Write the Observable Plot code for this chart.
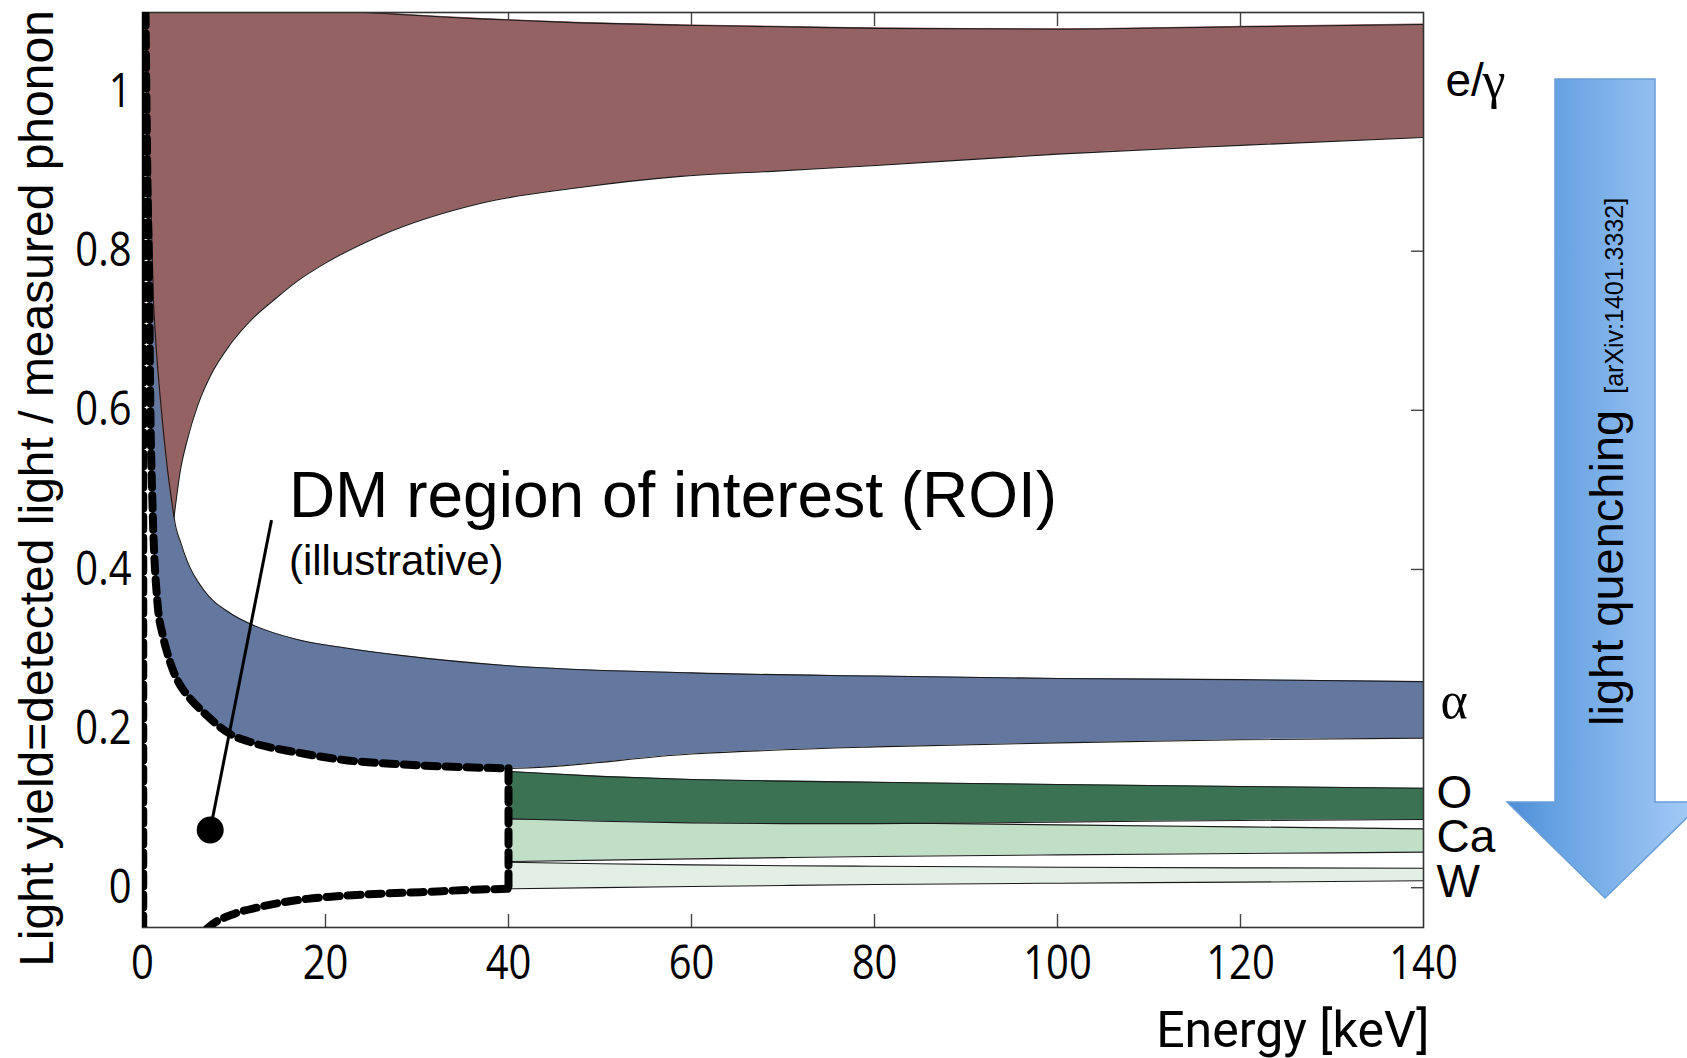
<!DOCTYPE html>
<html><head><meta charset="utf-8">
<script src="https://cdn.jsdelivr.net/npm/d3@7"></script>
<script src="https://cdn.jsdelivr.net/npm/@observablehq/plot@0.6"></script>
<style>html,body{margin:0;padding:0;background:#fff;overflow:hidden}</style>
</head><body><div id="chart"></div>
<script>
// ---------------- data ----------------
const xTicks = [0, 20, 40, 60, 80, 100, 120, 140];
const yTicks = [0, 0.2, 0.4, 0.6, 0.8, 1];

// e/gamma band, left part (left edge of the band, upper bound above the frame)
const egLeftE    = [0.45, 0.5, 0.8, 1.2, 1.4, 1.97, 2.7, 3.45];
const egLeftLow  = [1.14, 1.10, 0.914, 0.738, 0.696, 0.612, 0.529, 0.466];
const egLeftHigh = [1.2, 1.2, 1.2, 1.2, 1.2, 1.2, 1.2, 1.2];
// e/gamma band, right part
const egE    = [3.45, 4.15, 4.9, 6.0, 7.5, 9.6, 12, 14.3, 17, 20, 26, 36.9, 47.8, 58.8, 69.7, 80.6, 100, 120, 140];
const egLow  = [0.466, 0.525, 0.563, 0.605, 0.645, 0.683, 0.715, 0.738, 0.763, 0.785, 0.8195, 0.860, 0.880, 0.894, 0.901, 0.908, 0.922, 0.933, 0.943];
const egHigh = [1.2, 1.19, 1.18, 1.16, 1.15, 1.14, 1.13, 1.12, 1.11, 1.104, 1.099, 1.092, 1.087, 1.084, 1.082, 1.080, 1.079, 1.082, 1.085];

// alpha band
const alphaE    = [0.33, 0.5, 0.75, 0.85, 1.08, 1.62, 2.2, 2.71, 3.45, 4.2, 4.9, 6.7, 9.6, 12.1, 16.9, 22.4, 28.2, 40, 60, 80, 100, 120, 140];
const alphaLow  = [1.10, 0.92, 0.73, 0.61, 0.487, 0.36, 0.318, 0.295, 0.27, 0.253, 0.242, 0.22, 0.193, 0.182, 0.170, 0.160, 0.155, 0.150, 0.168, 0.177, 0.182, 0.186, 0.188];
const alphaHigh = [1.25, 1.18, 1.08, 1.04, 0.96, 0.82, 0.68, 0.58, 0.466, 0.433, 0.410, 0.374, 0.345, 0.330, 0.312, 0.301, 0.292, 0.279, 0.270, 0.266, 0.263, 0.2615, 0.259];

// nuclear recoil bands (O, Ca, W), 40-140 keV
const nrE    = [40, 50, 60, 70, 80, 100, 120, 140];
const oHigh  = [0.146, 0.140, 0.136, 0.134, 0.1326, 0.1297, 0.1272, 0.125];
const oLow   = [0.0866, 0.0835, 0.0815, 0.0805, 0.0805, 0.0825, 0.0845, 0.0857];
const caHigh = [0.0866, 0.0854, 0.0841, 0.0829, 0.0816, 0.079, 0.0765, 0.074];
const caLow  = [0.0329, 0.0347, 0.0363, 0.0378, 0.0392, 0.0413, 0.043, 0.0447];
const wHigh  = [0.032, 0.0302, 0.0287, 0.0277, 0.027, 0.0258, 0.025, 0.0245];
const wLow   = [-0.0014, 0.0001, 0.0015, 0.0028, 0.004, 0.0057, 0.007, 0.0087];

// ROI (dashed) lower boundary below 40 keV
const roiLowE = [7.0, 7.6, 10, 12.7, 15.5, 18, 20.9, 26.4, 30.4, 35.8, 40];
const roiLowV = [-0.052, -0.0463, -0.0329, -0.0245, -0.018, -0.014, -0.011, -0.0073, -0.0056, -0.0027, -0.0014];
const roiEdgeE = [0.08, 40];   // vertical ROI edges
const roiUpperE = alphaE.filter(e => e <= 40);
const roiUpperV = alphaLow.slice(0, roiUpperE.length);

// annotations
const roiTexts = ["DM region of interest (ROI)", "(illustrative)"];
const roiTextE = [16.0, 16.0];
const roiTextV = [0.4657, 0.393];
const pointerE = [14.1, 7.4];
const pointerV = [0.462, 0.0725];
const sideLabels = ["O", "Ca", "W"];
const sideLabelV = [0.119, 0.064, 0.007];
const egLabelV = 1.013;
const alphaLabelV = 0.234;

const C = {eg: "#946262", alpha: "#64789f", O: "#3b7254", Ca: "#c1dec7", W: "#e3efe5"};
const HUMAN = '"Open Sans", "DejaVu Sans", sans-serif';
const SANS = '"Liberation Sans", Arial, Helvetica, sans-serif';
const SERIF = '"Liberation Serif", "DejaVu Serif", serif';

function band(E, lo, hi, fill) {
  return [
    Plot.areaY(E, {x: E, y1: lo, y2: hi, fill, curve: "monotone-x", clip: true}),
    Plot.line(E, {x: E, y: lo, stroke: "#1a1a1a", strokeWidth: 1.1, curve: "monotone-x", clip: true}),
    Plot.line(E, {x: E, y: hi, stroke: "#1a1a1a", strokeWidth: 1.1, curve: "monotone-x", clip: true})
  ];
}

function arrowMark(index, scales, values, dims) {
  const W = dims.width;
  const cx = W - 82, hs = 50, hh = 98, top = 79, headTop = 802, tip = 898;
  const g = d3.create("svg:g");
  const grad = g.append("defs").append("linearGradient")
    .attr("id", "quenchGrad").attr("gradientUnits", "userSpaceOnUse")
    .attr("x1", cx - hh).attr("x2", cx + hh).attr("y1", 0).attr("y2", 0);
  grad.append("stop").attr("offset", 0).attr("stop-color", "#4d8dd8");
  grad.append("stop").attr("offset", 0.25).attr("stop-color", "#66a2e2");
  grad.append("stop").attr("offset", 0.75).attr("stop-color", "#93bff0");
  grad.append("stop").attr("offset", 1).attr("stop-color", "#a8cdf8");
  g.append("path")
    .attr("d", `M${cx - hs},${top}H${cx + hs}V${headTop}H${cx + hh}L${cx},${tip}L${cx - hh},${headTop}H${cx - hs}Z`)
    .attr("fill", "url(#quenchGrad)").attr("stroke", "#6a9fd9").attr("stroke-width", 1.5);
  const t = g.append("text")
    .attr("transform", `translate(${cx + 18},726) rotate(-90)`)
    .attr("text-anchor", "start")
    .attr("font-family", SANS).attr("font-size", 47).attr("fill", "#000");
  t.append("tspan").text("light quenching");
  t.append("tspan").attr("dx", 16).attr("font-size", 25).text("[arXiv:1401.3332]");
  return g.node();
}

const chart = Plot.plot({
  width: 1687, height: 1058,
  marginLeft: 142, marginRight: 264, marginTop: 12, marginBottom: 131,
  x: {domain: [0, 140]},
  y: {domain: [-0.05, 1.1]},
  style: {background: "#fff", color: "#000"},
  marks: [
    // inward ticks
    Plot.axisX(xTicks.slice(1, -1), {anchor: "bottom", tickSize: -13, tickFormat: () => "", stroke: "#444", strokeWidth: 1.4}),
    Plot.axisX(xTicks.slice(1, -1), {anchor: "top", tickSize: -13, tickFormat: () => "", stroke: "#444", strokeWidth: 1.4}),
    Plot.axisY(yTicks, {anchor: "right", tickSize: -13, tickFormat: () => "", stroke: "#444", strokeWidth: 1.4}),
    // tick labels
    Plot.axisX(xTicks, {anchor: "bottom", tickSize: 0, tickPadding: 18, fontSize: 47, fontFamily: HUMAN, fill: "#000"}),
    Plot.axisY(yTicks, {anchor: "left", tickSize: 0, tickPadding: 11, fontSize: 47, fontFamily: HUMAN, fill: "#000",
      tickFormat: d => (d === 0 || d === 1) ? String(d) : d3.format(".1f")(d)}),
    // bands
    ...band(nrE, wLow, wHigh, C.W),
    ...band(nrE, caLow, caHigh, C.Ca),
    ...band(nrE, oLow, oHigh, C.O),
    ...band(alphaE, alphaLow, alphaHigh, C.alpha),
    Plot.areaY(egLeftE, {x: egLeftE, y1: egLeftLow, y2: egLeftHigh, fill: C.eg, stroke: C.eg, strokeWidth: 1, curve: "monotone-x", clip: true}),
    Plot.areaY(egE, {x: egE, y1: egLow, y2: egHigh, fill: C.eg, stroke: C.eg, strokeWidth: 1, curve: "monotone-x", clip: true}),
    Plot.line(egLeftE, {x: egLeftE, y: egLeftLow, stroke: "#1a1a1a", strokeWidth: 1.1, curve: "monotone-x", clip: true}),
    Plot.line(egE, {x: egE, y: egLow, stroke: "#1a1a1a", strokeWidth: 1.1, curve: "monotone-x", clip: true}),
    Plot.line(egE, {x: egE, y: egHigh, stroke: "#1a1a1a", strokeWidth: 1.1, curve: "monotone-x", clip: true}),
    Plot.frame({stroke: "#333", strokeWidth: 1.6}),
    // ROI dashed outline
    Plot.line(roiLowE, {x: roiLowE, y: roiLowV, stroke: "#aaa", strokeWidth: 1.2, curve: "monotone-x", clip: true}),
    Plot.line(roiUpperE, {x: roiUpperE, y: roiUpperV, stroke: "#000", strokeWidth: 8, strokeDasharray: "13,8", curve: "monotone-x", clip: true}),
    Plot.line(roiLowE, {x: roiLowE, y: roiLowV, stroke: "#000", strokeWidth: 8, strokeDasharray: "13,8", curve: "monotone-x", clip: true}),
    Plot.line([0, 1], {x: [roiEdgeE[1], roiEdgeE[1]], y: [alphaLow[alphaE.indexOf(40)], wLow[0]], stroke: "#000", strokeWidth: 8, strokeDasharray: "13,8", clip: true}),
    Plot.line([0, 1], {x: [roiEdgeE[0], roiEdgeE[0]], y: [1.1, -0.05], stroke: "#000", strokeWidth: 8, strokeDasharray: "13,8", clip: true}),
    // ROI annotation
    Plot.link([0], {x1: pointerE[0], y1: pointerV[0], x2: pointerE[1], y2: pointerV[1], stroke: "#000", strokeWidth: 3}),
    Plot.dot([0], {x: pointerE[1], y: pointerV[1], r: 13.5, fill: "#000"}),
    Plot.text([roiTexts[0]], {x: roiTextE[0], y: roiTextV[0], textAnchor: "start", lineAnchor: "bottom", fontSize: 64, fontFamily: SANS, fill: "#000"}),
    Plot.text([roiTexts[1]], {x: roiTextE[1], y: roiTextV[1], textAnchor: "start", lineAnchor: "bottom", fontSize: 42, fontFamily: SANS, fill: "#000"}),
    // band labels
    Plot.text(["e/"], {x: 140, y: egLabelV, dx: 22, textAnchor: "start", fontSize: 46, fontFamily: SANS, fill: "#000"}),
    Plot.text(["γ"], {x: 140, y: egLabelV, dx: 59, textAnchor: "start", fontSize: 52, fontFamily: SERIF, fill: "#000"}),
    Plot.text(["α"], {x: 140, y: alphaLabelV, dx: 17, textAnchor: "start", fontSize: 52, fontFamily: SERIF, fill: "#000"}),
    Plot.text(sideLabels, {x: 140, y: sideLabelV, dx: 13, textAnchor: "start", fontSize: 46, fontFamily: SANS, fill: "#000"}),
    // axis titles
    Plot.text(["Light yield=detected light / measured phonon"], {frameAnchor: "left", rotate: -90, textAnchor: "middle", dx: -105, dy: 18.5, fontSize: 48, fontFamily: SANS, fill: "#000"}),
    Plot.text(["Energy [keV]"], {frameAnchor: "bottom-right", textAnchor: "end", lineAnchor: "bottom", dx: 6, dy: 119, fontSize: 50, fontFamily: "Roboto, " + SANS, fill: "#000"}),
    // quenching arrow
    arrowMark
  ]
});
// condense the tick labels (the original uses a condensed face)
d3.select(chart).selectAll('g[aria-label="x-axis tick label"] text, g[aria-label="y-axis tick label"] text')
  .attr("transform", function () { return (this.getAttribute("transform") || "") + " scale(0.85,1)"; });
document.getElementById("chart").append(chart);
</script></body></html>
